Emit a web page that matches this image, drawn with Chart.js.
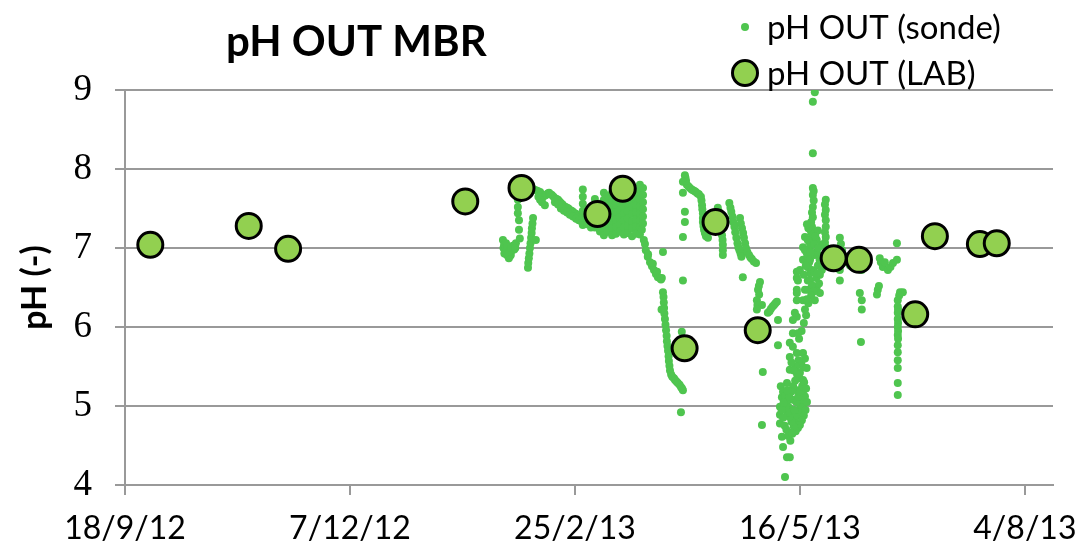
<!DOCTYPE html>
<html><head><meta charset="utf-8">
<script src="https://cdn.jsdelivr.net/npm/chart.js@4.4.1/dist/chart.umd.min.js"></script>
<style>html,body{margin:0;padding:0;background:#fff}#wrap{width:1082px;height:548px;position:relative}</style>
</head><body><div id="wrap"><canvas id="c"></canvas></div>
<script>
const chartTitle = "pH OUT MBR";
const yAxisTitle = "pH (-)";
const seriesNames = ["pH OUT (sonde)", "pH OUT (LAB)"];
const startDate = [2012, 9, 18];
const xTickLabels = ["18/9/12", "7/12/12", "25/2/13", "16/5/13", "4/8/13"];
const xTickStepDays = 80;
const xMaxDays = 330;

// Laboratory measurements
const labDates = ["2012-09-27","2012-11-01","2012-11-15","2013-01-17","2013-02-06","2013-03-05","2013-03-14","2013-04-05","2013-04-16","2013-05-01","2013-05-28","2013-06-06","2013-06-26","2013-07-03","2013-07-19","2013-07-25"];
const labPH = [7.04, 7.28, 6.99, 7.59, 7.76, 7.43, 7.75, 5.73, 7.33, 5.96, 6.87, 6.85, 6.16, 7.15, 7.05, 7.06];

// Probe readings: [days since 18/9/12, pH]
const sondeReadings = [
[134.4,7.10],[134.6,7.00],[134.8,7.04],[135.1,6.97],[135.5,7.06],[135.8,6.91],[136.2,6.95],[136.5,6.87],[136.9,6.90],[137.2,6.91],[137.6,6.97],[137.9,7.03],[138.3,7.02],[138.4,6.98],[139.0,7.06],
[135.3,7.00],[136.0,7.02],[136.7,6.96],[137.4,7.00],[134.9,6.93],[138.8,7.00],
[139.7,7.73],[139.7,7.61],[139.7,7.52],[139.7,7.44],[140.1,7.35],[140.1,7.23],[140.4,7.12],
[143.3,6.75],[143.4,6.81],[143.6,6.87],[143.8,6.93],[144.0,7.00],[144.2,7.06],[144.4,7.13],[144.6,7.19],[144.7,7.25],[144.9,7.31],[145.1,7.38],[146.1,7.10],
[141.5,7.78],[142.2,7.80],[143.3,7.73],[144.0,7.75],[144.7,7.76],[145.4,7.74],[146.1,7.73],[146.8,7.72],[147.6,7.71],[148.1,7.68],[148.6,7.65],[149.2,7.66],[149.7,7.67],[150.3,7.69],[150.8,7.70],[151.3,7.68],[151.8,7.67],[152.4,7.65],[152.9,7.63],[153.5,7.62],[154.0,7.61],[154.5,7.59],[155.0,7.57],[155.6,7.55],[156.1,7.53],[156.7,7.52],[157.2,7.51],[157.7,7.50],[158.2,7.48],[158.8,7.47],[159.3,7.46],[159.9,7.44],[160.4,7.43],[160.9,7.42],[161.4,7.41],[162.0,7.39],[162.5,7.38],
[147.0,7.65],[147.6,7.61],[148.3,7.58],[149.3,7.54],[152.9,7.58],[154.0,7.55],[155.0,7.50],[156.1,7.47],[157.2,7.45],[158.2,7.42],[159.3,7.40],[160.4,7.37],[161.4,7.35],[162.5,7.33],
[162.8,7.74],[162.8,7.65],[162.8,7.56],[162.8,7.47],[162.8,7.38],[162.8,7.29],
[164.3,7.46],[164.3,7.38],[164.3,7.30],
[165.7,7.52],[165.7,7.43],[165.7,7.34],[165.7,7.26],
[167.1,7.62],[167.1,7.53],[167.1,7.44],[167.1,7.35],[167.1,7.26],
[168.9,7.56],[168.9,7.47],[168.9,7.38],[168.9,7.29],[168.9,7.21],
[170.3,7.70],[170.3,7.61],[170.3,7.52],[170.3,7.43],[170.3,7.34],[170.3,7.25],[170.3,7.16],
[171.7,7.66],[171.7,7.57],[171.7,7.48],[171.7,7.39],[171.7,7.30],[171.7,7.21],
[173.2,7.70],[173.2,7.61],[173.2,7.52],[173.2,7.43],[173.2,7.34],[173.2,7.25],[173.2,7.16],
[174.6,7.72],[174.6,7.63],[174.6,7.54],[174.6,7.45],[174.6,7.36],[174.6,7.27],[174.6,7.18],
[176.0,7.75],[176.0,7.66],[176.0,7.57],[176.0,7.48],[176.0,7.39],[176.0,7.30],[176.0,7.21],
[177.4,7.71],[177.4,7.62],[177.4,7.53],[177.4,7.44],[177.4,7.35],[177.4,7.26],[177.4,7.17],
[178.8,7.73],[178.8,7.64],[178.8,7.55],[178.8,7.46],[178.8,7.37],[178.8,7.28],[178.8,7.19],
[180.3,7.70],[180.3,7.61],[180.3,7.52],[180.3,7.43],[180.3,7.34],[180.3,7.25],[180.3,7.15],
[181.7,7.72],[181.7,7.63],[181.7,7.54],[181.7,7.45],[181.7,7.36],[181.7,7.27],[181.7,7.18],
[183.1,7.80],[183.1,7.71],[183.1,7.62],[183.1,7.53],[183.1,7.44],[183.1,7.35],[183.1,7.26],[183.1,7.17],
[184.2,7.76],[184.2,7.67],[184.2,7.58],[184.2,7.49],[184.2,7.40],[184.2,7.31],
[183.8,7.23],[184.5,7.10],[184.9,7.05],[185.2,6.97],[185.9,6.89],[186.0,6.92],[186.7,6.82],[187.4,6.77],[187.7,6.80],[188.1,6.72],[188.8,6.67],[189.2,6.70],[189.5,6.63],[190.2,6.62],[190.6,6.60],[190.9,6.62],[191.3,6.95],
[191.3,6.44],[191.5,6.38],[191.6,6.31],[191.7,6.24],[191.8,6.17],[192.0,6.10],[192.2,6.03],[192.4,5.96],[192.6,5.89],[192.7,5.82],[192.9,5.76],[193.1,5.70],[193.3,5.63],[193.4,5.57],[193.6,5.51],[193.8,5.45],[194.2,5.40],[194.6,5.37],[195.2,5.35],[195.6,5.33],[196.1,5.31],[196.6,5.29],[197.2,5.27],[197.7,5.24],[198.1,5.22],[198.4,5.20],
[190.8,6.22],[198.0,5.94],[197.7,4.92],
[199.1,7.92],[199.3,7.89],[199.5,7.85],[198.4,7.84],[198.4,7.70],[199.1,7.46],[199.1,7.33],[198.4,7.14],[198.4,6.59],
[199.8,7.80],[200.4,7.78],[200.9,7.76],[201.5,7.74],[202.0,7.73],[202.5,7.72],[203.0,7.71],[203.6,7.69],[204.1,7.68],[204.8,7.65],[205.0,7.60],[205.2,7.54],[205.3,7.49],[205.5,7.44],[205.5,7.38],[205.5,7.33],[205.7,7.28],[205.9,7.23],[206.2,7.19],[206.6,7.15],[207.3,7.13],
[210.8,7.51],[211.2,7.46],[211.6,7.42],[211.9,7.29],[212.1,7.22],[212.3,7.16],[212.5,7.10],[212.6,7.04],[212.6,6.97],[212.6,6.91],
[214.9,7.57],[215.3,7.51],[215.6,7.46],[216.0,7.40],[216.3,7.33],[216.7,7.27],[217.0,7.20],[217.4,7.13],[217.8,7.06],[218.1,7.01],[218.5,6.97],[218.9,6.93],[219.2,6.89],
[218.7,7.38],[219.0,7.31],[219.4,7.25],[219.8,7.19],[220.1,7.13],[220.5,7.06],[220.8,7.00],[221.3,6.95],[221.9,6.91],[222.4,6.88],[222.9,6.86],[223.6,6.83],[224.4,6.81],
[219.7,6.63],
[225.8,6.57],[225.4,6.52],[225.1,6.47],[225.5,6.41],[224.7,6.34],[226.5,6.28],[224.9,6.28],[224.7,6.22],
[228.6,6.18],[229.2,6.20],[229.7,6.23],[230.3,6.26],[230.8,6.28],[231.3,6.30],[231.8,6.32],
[232.2,6.09],[232.2,5.77],[226.8,5.43],[226.5,4.76],
[238.9,6.70],[238.9,6.62],[238.9,6.47],[238.9,6.34],[238.9,6.13],[237.5,6.09],[237.5,5.92],[236.4,5.80],[236.4,5.62],[236.4,5.46],[235.4,5.29],[233.6,5.11],[232.9,4.99],[232.9,4.89],[232.9,4.78],[233.6,4.61],[234.0,4.48],[235.4,4.35],[234.7,4.10],
[237.5,5.75],[238.9,5.67],[241.1,5.67],[241.1,5.49],[240.0,5.42],[241.1,5.33],[241.1,5.16],[238.9,5.20],[237.5,5.08],[241.1,4.99],[239.3,4.91],[236.4,4.66],[236.4,4.35],
[233.2,5.25],[234.0,5.18],[234.7,5.12],[235.4,5.05],[236.1,4.98],[236.8,4.92],[237.5,4.85],[238.2,4.80],[238.9,4.88],[239.6,4.95],[240.3,5.02],[241.0,5.08],[241.8,5.12],[242.5,5.05],[242.0,4.95],[241.4,4.88],[240.7,4.82],[240.0,4.76],[239.3,4.72],[238.5,4.68],[237.8,4.74],[237.0,4.80],[236.3,4.86],[235.6,4.92],[234.9,4.98],[234.2,5.04],[233.5,4.95],[234.0,4.85],[234.6,4.75],[235.2,4.70],[235.8,4.62],[236.6,4.56],[237.3,4.65],[238.0,4.95],[238.7,5.05],[239.4,5.12],[240.1,5.18],[240.8,5.25],[241.5,5.30],[242.2,5.22],[239.8,5.35],[239.0,5.40],[238.3,5.32],[237.6,5.25],[236.9,5.18],[236.2,5.12],[235.5,5.20],[240.5,5.55],[241.8,5.60],[242.4,5.48],[239.5,5.58],[238.6,5.50],[237.8,5.45],[237.0,5.55],[239.7,5.85],[240.6,5.95],[241.4,6.05],[242.2,6.15],
[241.8,7.14],[241.1,7.01],[241.1,6.85],[240.0,6.72],[239.3,6.59],[238.9,6.43],[238.2,6.18],[239.3,5.92],
[242.5,6.93],[242.8,6.76],[242.8,6.59],[241.8,6.47],[241.1,6.34],[241.8,6.22],
[245.3,8.97],[244.6,8.85],[244.6,8.20],
[244.6,7.76],[244.9,7.72],[244.6,7.67],[244.9,7.60],[244.6,7.52],[244.3,7.45],[244.6,7.39],[244.0,7.33],[244.3,7.27],[244.0,7.20],[244.3,7.14],[243.3,7.08],[243.6,7.01],[243.1,6.95],[242.8,6.89],[243.3,6.82],[242.8,6.76],[243.6,6.68],[243.6,6.59],[246.0,6.51],[247.1,6.43],
[249.2,7.61],[248.9,7.55],[249.2,7.48],[248.9,7.42],[249.2,7.35],[249.2,7.27],[248.9,7.20],[249.2,7.14],[248.9,7.07],[249.2,7.01],[249.2,6.94],
[241.8,6.97],[242.8,7.10],[243.6,6.85],[244.3,6.72],[245.3,6.91],[246.4,6.78],[247.1,6.66],[247.8,7.04],[246.0,7.10],[242.1,6.78],[241.4,6.66],[242.8,6.47],[244.3,6.53],[245.3,6.34],[246.4,7.22],[247.5,6.90],[246.8,6.55],[245.8,6.62],[244.9,6.45],
[243.0,7.25],[245.0,7.05],[246.0,6.95],[247.0,6.85],[245.5,7.15],[246.5,7.00],[247.8,6.72],[242.5,7.30],[243.8,6.95],[245.0,6.70],[246.0,6.68],[244.0,6.40],[243.0,6.30],[242.5,6.35],
[254.2,7.13],[254.6,7.05],[255.0,6.97],[253.5,6.97],[255.3,6.90],[254.2,6.85],[254.2,6.72],[254.2,6.59],[256.0,6.82],[257.8,6.78],[259.6,6.75],[260.6,6.75],[261.3,6.81],[262.0,6.72],[261.3,6.43],[262.0,6.34],[262.0,6.22],[261.7,5.81],
[274.5,7.06],[268.4,6.87],[268.8,6.82],[269.5,6.76],[270.2,6.82],[271.3,6.72],[272.2,6.76],[273.1,6.81],[274.5,6.85],[267.7,6.47],[267.4,6.41],[268.1,6.52],
[276.6,6.44],[275.6,6.44],[275.3,6.40],[274.8,6.34],[274.8,6.26],[274.9,6.22],[274.8,6.18],[274.8,6.10],[274.9,6.05],[274.8,6.00],[274.9,5.95],[274.8,5.90],[274.9,5.85],[274.8,5.77],[274.8,5.68],[274.8,5.58],[274.8,5.48],[274.8,5.29],[274.8,5.14]
];

const DAY = 86400000;
const t0 = Date.UTC(startDate[0], startDate[1] - 1, startDate[2]);
function daysFrom(iso) { const p = iso.split('-').map(Number); return (Date.UTC(p[0], p[1] - 1, p[2]) - t0) / DAY; }

const labPoints = labDates.map((d, i) => ({ x: daysFrom(d), y: labPH[i] }));
const sondePoints = sondeReadings.map(r => ({ x: r[0], y: r[1] }));

const SONDE_COLOR = '#4FC54F';
const LAB_COLOR = '#92D050';

const headerPlugin = {
  id: 'header',
  afterDraw(chart) {
    const ctx = chart.ctx;
    ctx.save();
    ctx.fillStyle = '#000';
    ctx.textBaseline = 'alphabetic';
    ctx.textAlign = 'left';
    ctx.font = 'bold 42px Lato';
    ctx.fillText(chartTitle, 226, 56);
    const ds = chart.data.datasets;
    const rows = [{ d: ds[1], y: 27, base: 39 }, { d: ds[0], y: 73, base: 85 }];
    rows.forEach(r => {
      ctx.beginPath();
      ctx.arc(745, r.y, r.d.pointRadius, 0, Math.PI * 2);
      ctx.fillStyle = r.d.backgroundColor;
      ctx.fill();
      if (r.d.borderWidth) { ctx.lineWidth = r.d.borderWidth; ctx.strokeStyle = r.d.borderColor; ctx.stroke(); }
      ctx.fillStyle = '#000';
      ctx.font = '33px Lato';
      ctx.fillText(r.d.label, 767, r.base);
    });
    ctx.restore();
  }
};

new Chart(document.getElementById('c'), {
  type: 'scatter',
  data: { datasets: [
    { label: seriesNames[1], data: labPoints, pointRadius: 12.5, pointHoverRadius: 12.5, backgroundColor: LAB_COLOR, borderColor: '#000', borderWidth: 3, order: 0 },
    { label: seriesNames[0], data: sondePoints, pointRadius: 4, pointHoverRadius: 4, backgroundColor: SONDE_COLOR, borderWidth: 0, order: 1 }
  ]},
  options: {
    responsive: true, maintainAspectRatio: false, animation: false,
    layout: { padding: { top: 90, right: 29, bottom: 0, left: 0 } },
    plugins: { legend: { display: false }, title: { display: false }, tooltip: { enabled: false } },
    scales: {
      x: {
        type: 'linear', min: 0, max: xMaxDays,
        afterFit: s => { s.height = 63; s.paddingLeft = 0; s.paddingRight = 0; },
        ticks: { stepSize: xTickStepDays, includeBounds: false, autoSkip: false, maxRotation: 0, padding: 14, color: '#000',
          font: { family: 'Lato', size: 32 },
          callback: v => { const i = Math.round(v / xTickStepDays); return xTickLabels[i] !== undefined ? xTickLabels[i] : ''; } },
        grid: { display: true, drawOnChartArea: false, drawTicks: true, tickLength: 10, color: '#999', lineWidth: 2 },
        border: { display: true, color: '#999', width: 2 }
      },
      y: {
        min: 4, max: 9,
        afterFit: s => { s.width = 125; s.paddingTop = 0; s.paddingBottom = 0; },
        ticks: { stepSize: 1, padding: 23, color: '#000', font: { family: 'Liberation Serif', size: 37 } },
        grid: { color: '#999', lineWidth: 2, tickLength: 10 },
        border: { display: true, color: '#999', width: 2 },
        title: { display: true, text: yAxisTitle, color: '#000', font: { family: 'Lato', size: 34, weight: 'bold' }, padding: { top: 15, bottom: 0 } }
      }
    }
  },
  plugins: [headerPlugin]
});
</script>
</body></html>
